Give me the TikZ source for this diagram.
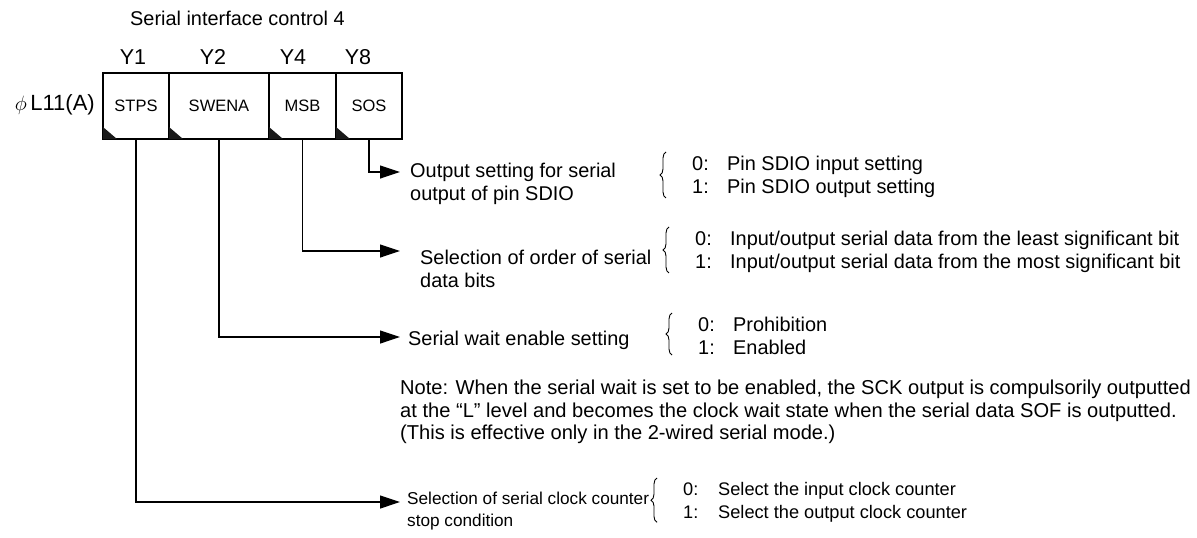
\documentclass[tikz,border=0pt]{standalone}
\usepackage{fontspec}
\setmainfont{Liberation Sans}
\usetikzlibrary{arrows.meta,positioning,decorations.pathreplacing}

\newcommand{\opt}[2]{\makebox[35pt][l]{#1}#2}

\begin{document}
\begin{tikzpicture}[
    x=1pt, y=-1pt,
    font=\fontsize{19.9}{23}\selectfont,
    reg/.style={draw, line width=1.2pt, minimum height=66pt, outer sep=0pt,
      inner sep=0pt, font=\fontsize{16.5}{18}\selectfont},
    txt/.style={anchor=north west, inner sep=0pt, align=left},
    bitlbl/.style={inner sep=0pt, font=\fontsize{21.5}{24}\selectfont},
    arrow/.style={-{Triangle[length=20pt,width=13pt]}, line width=1.2pt},
    brc/.style={decorate, decoration={brace, amplitude=6pt}, line width=0.9pt}
  ]
  \useasboundingbox (0,0) rectangle (1197,538);

  % register
  \node[anchor=west, inner sep=0pt] (title) at (130,18) {Serial interface control 4};
  \node[anchor=east, inner sep=0pt, font=\fontsize{22}{24}\selectfont] (port) at (95,105)
    {\(\phi\,\)L11(A)};
  \node[reg, minimum width=66pt] (stps) at (136,106) {STPS};
  \node[reg, minimum width=100pt, right=0pt of stps] (swena) {SWENA};
  \node[reg, minimum width=67pt, right=0pt of swena] (msb) {MSB};
  \node[reg, minimum width=66pt, right=0pt of msb] (sos) {SOS};
  \foreach \b in {stps,swena,msb,sos}
    \fill[black!90] (\b.south west) -- ++(0,-12) -- ++(14,12) -- cycle;
  \node[bitlbl] (y1) at (133,57) {Y1};
  \node[bitlbl] (y2) at (213,57) {Y2};
  \node[bitlbl] (y4) at (293,57) {Y4};
  \node[bitlbl] (y8) at (358,57) {Y8};

  % bit descriptions
  \node[txt] (sosdesc) at (410,163) {Output setting for serial\\output of pin SDIO};
  \node[txt] (sosopt) at (692,156) {\opt{0:}{Pin SDIO input setting}\\\opt{1:}{Pin SDIO output setting}};
  \node[txt] (msbdesc) at (420,250) {Selection of order of serial\\data bits};
  \node[txt] (msbopt) at (695,231) {\opt{0:}{Input/output serial data from the least significant bit}\\
    \opt{1:}{Input/output serial data from the most significant bit}};
  \node[txt] (swenadesc) at (408,331) {Serial wait enable setting};
  \node[txt] (swenaopt) at (698,317) {\opt{0:}{Prohibition}\\\opt{1:}{Enabled}};
  \node[txt, font=\fontsize{20.1}{22.5}\selectfont] (note) at (400,380)
    {Note: When the serial wait is set to be enabled, the SCK output is compulsorily outputted\\
     at the “L” level and becomes the clock wait state when the serial data SOF is outputted.\\
     (This is effective only in the 2-wired serial mode.)};
  \node[txt, font=\fontsize{17.2}{22}\selectfont] (stpsdesc) at (407,492)
    {Selection of serial clock counter\\stop condition};
  \node[txt, font=\fontsize{18.2}{23}\selectfont] (stpsopt) at (683,482)
    {\opt{0:}{Select the input clock counter}\\\opt{1:}{Select the output clock counter}};

  \draw[arrow] (sos.south) |- ([xshift=-10pt,yshift=-9pt]sosdesc.north west);
  \draw[arrow] (msb.south) |- ([xshift=-20pt,yshift=-1pt]msbdesc.north west);
  \draw[arrow] (swena.south) |- ([xshift=-8pt,yshift=-6pt]swenadesc.north west);
  \draw[arrow] (stps.south) |- ([xshift=-7pt,yshift=-10pt]stpsdesc.north west);

  \foreach \o in {sosopt,msbopt,swenaopt,stpsopt}
    \draw[brc] ([xshift=-26pt]\o.south west) -- ([xshift=-26pt,yshift=4pt]\o.north west);
\end{tikzpicture}
\end{document}
